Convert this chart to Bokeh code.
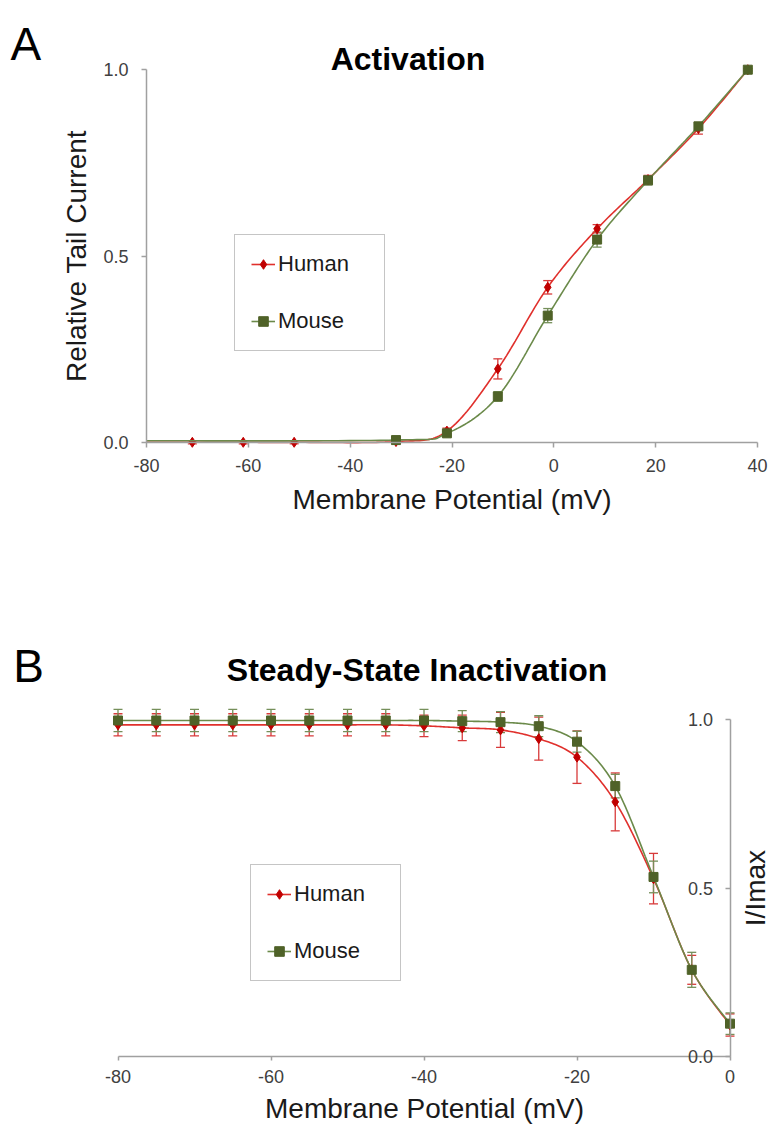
import numpy as np
from bokeh.plotting import figure
from bokeh.layouts import column
from bokeh.models import (ColumnDataSource, Whisker, TeeHead, Legend, LegendItem,
                          Label, FixedTicker, NumeralTickFormatter)
from bokeh.embed import file_html
from bokeh.resources import INLINE

# ---------------- Panel A: Activation ----------------
act_human_mv = [-81, -71, -61, -51, -31, -21, -11, -1.2, 8.5, 18.5, 28.4, 38.1]
act_human_i = [0.0, 0.0, 0.0, 0.0, 0.002, 0.030, 0.197, 0.416, 0.573, 0.705, 0.842, 1.0]
act_human_err = [0.0, 0.004, 0.004, 0.004, 0.003, 0.008, 0.027, 0.018, 0.011, 0.011, 0.015, 0.003]

act_mouse_mv = [-81, -31, -21, -11, -1.2, 8.5, 18.5, 28.4, 38.1]
act_mouse_i = [0.004, 0.006, 0.024, 0.123, 0.340, 0.544, 0.703, 0.848, 1.0]
act_mouse_err = [0.0, 0.005, 0.006, 0.013, 0.019, 0.020, 0.012, 0.010, 0.003]

act_xticks = [-80, -60, -40, -20, 0, 20, 40]
act_yticks = [0.0, 0.5, 1.0]

# ---------------- Panel B: Steady-State Inactivation ----------------
inact_mv = [-80, -75, -70, -65, -60, -55, -50, -45, -40, -35, -30, -25, -20, -15, -10, -5, 0]
inact_human = [0.985, 0.985, 0.985, 0.985, 0.985, 0.985, 0.985, 0.985, 0.982, 0.976, 0.970,
               0.944, 0.889, 0.756, 0.528, 0.257, 0.093]
inact_human_err = [0.033, 0.033, 0.033, 0.033, 0.033, 0.033, 0.033, 0.033, 0.032, 0.038, 0.052,
                   0.064, 0.078, 0.086, 0.075, 0.043, 0.033]
inact_mouse = [0.998, 0.998, 0.998, 0.998, 0.998, 0.998, 0.998, 0.998, 0.998, 0.996, 0.993,
               0.981, 0.935, 0.803, 0.533, 0.257, 0.097]
inact_mouse_err = [0.033, 0.033, 0.033, 0.033, 0.033, 0.033, 0.033, 0.033, 0.033, 0.031, 0.031,
                   0.031, 0.031, 0.035, 0.047, 0.052, 0.032]

inact_xticks = [-80, -60, -40, -20, 0]
inact_yticks = [0.0, 0.5, 1.0]

HUMAN_LINE = "#e0302c"
HUMAN_MARK = "#c00000"
HUMAN_ERR = "#d83a3a"
MOUSE_LINE = "#6b8a4a"
MOUSE_MARK = "#4f6228"
MOUSE_ERR = "#758f5a"
AXIS_COLOR = "#a0a0a0"
FONT = "Liberation Sans"
W = 771


class PixelMap:
    """Linear map so that two given values land on two given pixel positions of the canvas."""
    def __init__(self, width, height, xv, xp, yv, yp):
        self.sx = (xp[1] - xp[0]) / (xv[1] - xv[0])
        self.x_start = xv[0] - xp[0] / self.sx
        self.x_end = self.x_start + width / self.sx
        self.sy = (yp[0] - yp[1]) / (yv[1] - yv[0])
        self.y_end = yv[1] + yp[1] / self.sy
        self.y_start = self.y_end - height / self.sy

    def x(self, px):
        return self.x_start + px / self.sx

    def y(self, py):
        return self.y_end - py / self.sy


def smooth(xs, ys, n=24):
    """Excel-style smoothed connector (Bezier with Catmull-Rom control points)."""
    pts = np.column_stack([np.asarray(xs, float), np.asarray(ys, float)])
    P = np.vstack([pts[0], pts, pts[-1]])
    t = np.linspace(0, 1, n)[:, None]
    out = []
    for i in range(len(pts) - 1):
        p0, p1, p2, p3 = P[i], P[i + 1], P[i + 2], P[i + 3]
        c1 = p1 + (p2 - p0) / 6.0
        c2 = p2 - (p3 - p1) / 6.0
        seg = ((1 - t) ** 3) * p1 + 3 * ((1 - t) ** 2) * t * c1 + 3 * (1 - t) * t ** 2 * c2 + t ** 3 * p2
        out.append(seg if i == 0 else seg[1:])
    s = np.vstack(out)
    return s[:, 0], s[:, 1]


def clip_left(sx, sy, xmin):
    """Cut the connector at the plot-area edge (like the original plot area)."""
    keep = sx >= xmin
    i = int(np.argmax(keep))
    if i > 0:
        f = (xmin - sx[i - 1]) / (sx[i] - sx[i - 1])
        by = sy[i - 1] + f * (sy[i] - sy[i - 1])
        return np.concatenate([[xmin], sx[i:]]), np.concatenate([[by], sy[i:]])
    return sx, sy


def style_axis(ax, tick_out=5, standoff=10):
    ax.axis_line_color = AXIS_COLOR
    ax.axis_line_width = 1.5
    ax.major_tick_line_color = AXIS_COLOR
    ax.major_tick_line_width = 1.5
    ax.major_tick_out = tick_out
    ax.major_tick_in = 0
    ax.minor_tick_line_color = None
    ax.major_label_text_font = FONT
    ax.major_label_text_font_size = "18px"
    ax.major_label_text_color = "#404040"
    ax.major_label_standoff = standoff
    ax.axis_label_text_font = FONT
    ax.axis_label_text_font_size = "28px"
    ax.axis_label_text_font_style = "normal"
    ax.axis_label_text_color = "#1a1a1a"


def add_series(p, xs, ys, errs, xmin, line_color, mark_color, err_color, marker, size):
    sx, sy = smooth(xs, ys)
    sx, sy = clip_left(sx, sy, xmin)
    ln = p.line(sx, sy, line_color=line_color, line_width=1.6)
    sel = [i for i, a in enumerate(xs) if a >= xmin]
    esel = [i for i in sel if errs[i] > 0]
    src = ColumnDataSource(dict(x=[xs[i] for i in esel],
                                upper=[ys[i] + errs[i] for i in esel],
                                lower=[ys[i] - errs[i] for i in esel]))
    w = Whisker(source=src, base="x", upper="upper", lower="lower", dimension="height",
                line_color=err_color, line_width=1.3,
                upper_head=TeeHead(size=9, line_color=err_color, line_width=1.3),
                lower_head=TeeHead(size=9, line_color=err_color, line_width=1.3))
    p.add_layout(w)
    sc = p.scatter([xs[i] for i in sel], [ys[i] for i in sel], marker=marker, size=size,
                   fill_color=mark_color, line_color=mark_color)
    return ln, sc


def make_legend(items, loc):
    return Legend(items=items, location=loc, margin=0, padding=16, spacing=31,
                  glyph_width=24, glyph_height=24, label_height=24, label_width=90,
                  label_standoff=3, border_line_color="#8c8c8c", border_line_width=1.2,
                  background_fill_color="white", background_fill_alpha=1.0,
                  label_text_font=FONT, label_text_font_size="22px", label_text_color="#1a1a1a")


def base_figure(h, m):
    p = figure(width=W, height=h, x_range=(m.x_start, m.x_end), y_range=(m.y_start, m.y_end),
               output_backend="svg", toolbar_location=None, title=None,
               min_border_left=0, min_border_right=0, min_border_top=0, min_border_bottom=0)
    p.outline_line_color = None
    p.grid.visible = False
    p.background_fill_color = "white"
    p.border_fill_color = "white"
    return p


# ---------------- Figure A ----------------
HA = 560
mA = PixelMap(W, HA, (-80, 40), (146, 757), (0, 1), (441.8, 69.2))
pA = base_figure(HA, mA)

hl, hs = add_series(pA, act_human_mv, act_human_i, act_human_err, act_xticks[0],
                    HUMAN_LINE, HUMAN_MARK, HUMAN_ERR, "diamond", 10)
ml, ms = add_series(pA, act_mouse_mv, act_mouse_i, act_mouse_err, act_xticks[0],
                    MOUSE_LINE, MOUSE_MARK, MOUSE_ERR, "square", 9)

xa = pA.xaxis[0]
style_axis(xa, 5, 12)
xa.fixed_location = act_yticks[0]
xa.bounds = (act_xticks[0], act_xticks[-1])
xa.ticker = FixedTicker(ticks=act_xticks)
xa.formatter = NumeralTickFormatter(format="0")
xa.axis_label = "Membrane Potential (mV)"
xa.axis_label_standoff = 8

ya = pA.yaxis[0]
style_axis(ya, 5, 13)
ya.fixed_location = act_xticks[0]
ya.bounds = (act_yticks[0], act_yticks[-1])
ya.ticker = FixedTicker(ticks=act_yticks)
ya.formatter = NumeralTickFormatter(format="0.0")
ya.axis_label = "Relative Tail Current"
ya.axis_label_standoff = 8

pA.add_layout(make_legend([LegendItem(label="Human", renderers=[hl, hs]),
                           LegendItem(label="Mouse", renderers=[ml, ms])], (234, HA - 351)))

pA.add_layout(Label(x=mA.x(10), y=mA.y(43.3), text="A",
                    text_font=FONT, text_font_size="46px", text_align="left",
                    text_baseline="alphabetic", text_color="#000000"))
pA.add_layout(Label(x=mA.x(407.5), y=mA.y(58), text="Activation",
                    text_font=FONT, text_font_size="32px", text_font_style="bold",
                    text_align="center", text_baseline="alphabetic", text_color="#000000"))

# ---------------- Figure B ----------------
HB = 569
OFF = HA
mB = PixelMap(W, HB, (-80, 0), (117.5, 729.5), (0, 1), (1055.8 - OFF, 719.3 - OFF))
pB = base_figure(HB, mB)

hl2, hs2 = add_series(pB, inact_mv, inact_human, inact_human_err, inact_xticks[0],
                      HUMAN_LINE, HUMAN_MARK, HUMAN_ERR, "diamond", 10)
ml2, ms2 = add_series(pB, inact_mv, inact_mouse, inact_mouse_err, inact_xticks[0],
                      MOUSE_LINE, MOUSE_MARK, MOUSE_ERR, "square", 9)

xb = pB.xaxis[0]
style_axis(xb, 4, 10)
xb.fixed_location = inact_yticks[0]
xb.bounds = (inact_xticks[0], inact_xticks[-1])
xb.ticker = FixedTicker(ticks=inact_xticks)
xb.formatter = NumeralTickFormatter(format="0")
xb.axis_label = "Membrane Potential (mV)"
xb.axis_label_standoff = 6

yb = pB.yaxis[0]
style_axis(yb, 5, 12)
yb.fixed_location = inact_xticks[-1]
yb.bounds = (inact_yticks[0], inact_yticks[-1])
yb.ticker = FixedTicker(ticks=inact_yticks)
yb.formatter = NumeralTickFormatter(format="0.0")

pB.add_layout(make_legend([LegendItem(label="Human", renderers=[hl2, hs2]),
                           LegendItem(label="Mouse", renderers=[ml2, ms2])], (250, HB - (981 - OFF))))

pB.add_layout(Label(x=mB.x(12.7), y=mB.y(665 - OFF), text="B",
                    text_font=FONT, text_font_size="46px", text_align="left",
                    text_baseline="alphabetic", text_color="#000000"))
pB.add_layout(Label(x=mB.x(416.6), y=mB.y(669.5 - OFF), text="Steady-State Inactivation",
                    text_font=FONT, text_font_size="32px", text_font_style="bold",
                    text_align="center", text_baseline="alphabetic", text_color="#000000"))
pB.add_layout(Label(x=mB.x(755), y=0.5, text="I/Imax", angle=np.pi / 2,
                    text_font=FONT, text_font_size="28px", text_align="center",
                    text_baseline="alphabetic", text_color="#1a1a1a"))

layout = column(pA, pB, spacing=0)
open("out.html", "w").write(file_html(layout, INLINE))
